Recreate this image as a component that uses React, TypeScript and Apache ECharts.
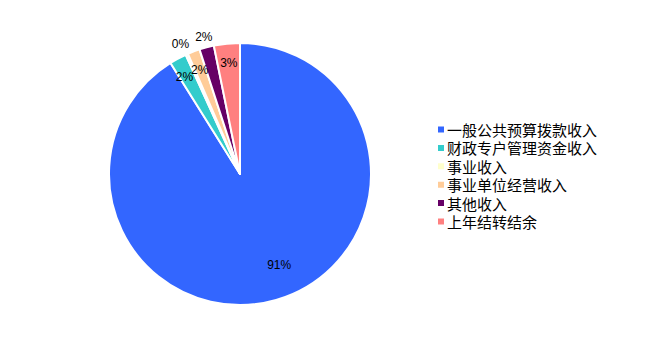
import React, { useEffect, useRef } from "react";
import * as echarts from "echarts";

const categories = ["一般公共预算拨款收入", "财政专户管理资金收入", "事业收入", "事业单位经营收入", "其他收入", "上年结转结余"];
const values = [91.1, 2.1, 0.3, 1.5, 1.8, 3.2];
const colors = ["#3366FF", "#33CCCC", "#FFFFCC", "#FFCC99", "#660066", "#FF8080"];
// label ring for each slice: 0 = deep inside, 1 = near edge, 2 = outside
const labelRing = [0, 1, 2, 1, 2, 1];
const labelOffsets = [[11, -7], [-3, 1], [-2, 0], [-1, 0], [0, 0], [0, -1]];

const CX = 240;
const CY = 174;
const R = 131;
const ringRadius = [99, 108, 139];

export default function App() {
  const ref = useRef<HTMLDivElement>(null);
  useEffect(() => {
    if (!ref.current) return;
    const chart = echarts.init(ref.current, undefined, { renderer: "svg" });
    const data = categories.map((name, i) => ({ name, value: values[i], itemStyle: { color: colors[i] } }));
    const labelSeries = ringRadius.map((rr, ring) => ({
      type: "pie" as const,
      center: [CX, CY],
      radius: [0, rr * 2],
      startAngle: 90,
      clockwise: true,
      silent: true,
      avoidLabelOverlap: false,
      percentPrecision: 0,
      itemStyle: { color: "rgba(0,0,0,0)", borderWidth: 0 },
      labelLine: { show: false },
      emphasis: { disabled: true },
      labelLayout: { hideOverlap: false },
      data: categories.map((name, i) => ({
        name,
        value: values[i],
        itemStyle: { color: "rgba(0,0,0,0)" },
        label: {
          show: labelRing[i] === ring,
          position: "inside",
          formatter: "{d}%",
          color: "#000",
          fontSize: 12,
          fontFamily: "Liberation Sans, Arial, sans-serif",
          offset: labelOffsets[i],
        },
      })),
    }));
    chart.setOption({
      animation: false,
      backgroundColor: "#fff",
      legend: {
        orient: "vertical",
        left: 431,
        top: 116,
        itemWidth: 8,
        itemHeight: 8,
        itemGap: 1.4,
        icon: "rect",
        data: categories,
        textStyle: { fontSize: 15, lineHeight: 17, color: "#000", fontFamily: "Noto Sans CJK SC", padding: [0, 0, 0, -3] },
      },
      series: [
        {
          type: "pie",
          center: [CX, CY],
          radius: [0, R],
          startAngle: 90,
          clockwise: true,
          label: { show: false },
          labelLine: { show: false },
          itemStyle: { borderColor: "#fff", borderWidth: 2 },
          data,
        },
        ...labelSeries,
      ],
    });
    return () => chart.dispose();
  }, []);
  return <div ref={ref} style={{ position: "fixed", left: 0, top: 0, width: 660, height: 346 }} />;
}
